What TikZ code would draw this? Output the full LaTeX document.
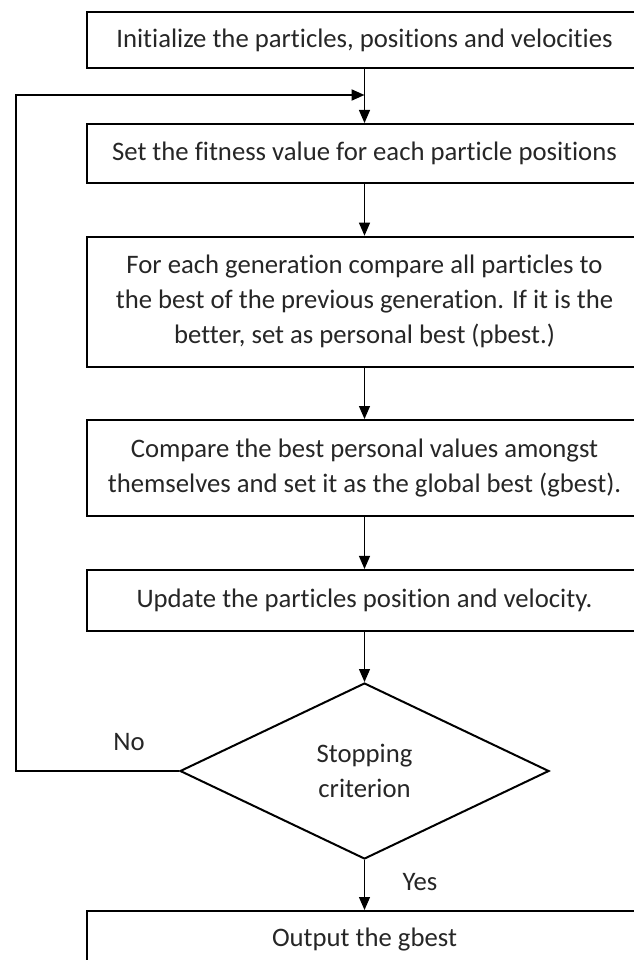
\documentclass[tikz,border=0pt]{standalone}
\usepackage{fontspec}
\setmainfont{Carlito}[Ligatures=NoCommon]
\usetikzlibrary{shapes.geometric,arrows.meta}
\begin{document}
\begin{tikzpicture}[x=1pt,y=-1pt,
  every node/.style={font=\fontsize{26.7}{35}\selectfont, text=black!85},
  procbox/.style={draw=black, line width=2pt, minimum width=555pt, inner sep=0pt, align=center},
  decision/.style={draw=black, line width=2pt, diamond, minimum width=369pt, minimum height=176pt, inner sep=0pt, align=center, aspect=2.1},
  conn/.style={draw=black, line width=1.2pt, -{Triangle[length=13pt,width=11pt]}},
  loopline/.style={draw=black, line width=2pt, -{Triangle[length=13pt,width=11pt]}},
  lbl/.style={inner sep=0pt}
]
\useasboundingbox (0,0) rectangle (633,960);
\node[procbox, minimum height=56pt] (b1) at (364.5,40) {Initialize the particles, positions and velocities};
\node[procbox, minimum height=59pt] (b2) at (364.5,153.5) {Set the fitness value for each particle positions};
\node[procbox, minimum height=130pt] (b3) at (364.5,301.7) {For each generation compare all particles to\\the best of the previous generation. If it is the\\better, set as personal best (pbest.)};
\node[procbox, minimum height=96pt] (b4) at (364.5,468) {Compare the best personal values amongst\\themselves and set it as the global best (gbest).};
\node[procbox, minimum height=60.7pt] (b5) at (364.5,600.3) {Update the particles position and velocity.};
\node[decision] (d) at (364.5,771) {Stopping\\criterion};
\node[procbox, minimum height=58pt] (b6) at (364.5,940) {Output the gbest};
\node[lbl] (no) at (129,742) {No};
\node[lbl] (yes) at (420,882) {Yes};
\coordinate (lc) at (16,95);
\coordinate (lj) at (364.5,95);
\draw[conn] (b1) -- (b2);
\draw[conn] (b2) -- (b3);
\draw[conn] (b3) -- (b4);
\draw[conn] (b4) -- (b5);
\draw[conn] (b5) -- (d);
\draw[conn] (d) -- (b6);
\draw[loopline] (d.west) -| (lc) -- (lj);
\end{tikzpicture}
\end{document}
